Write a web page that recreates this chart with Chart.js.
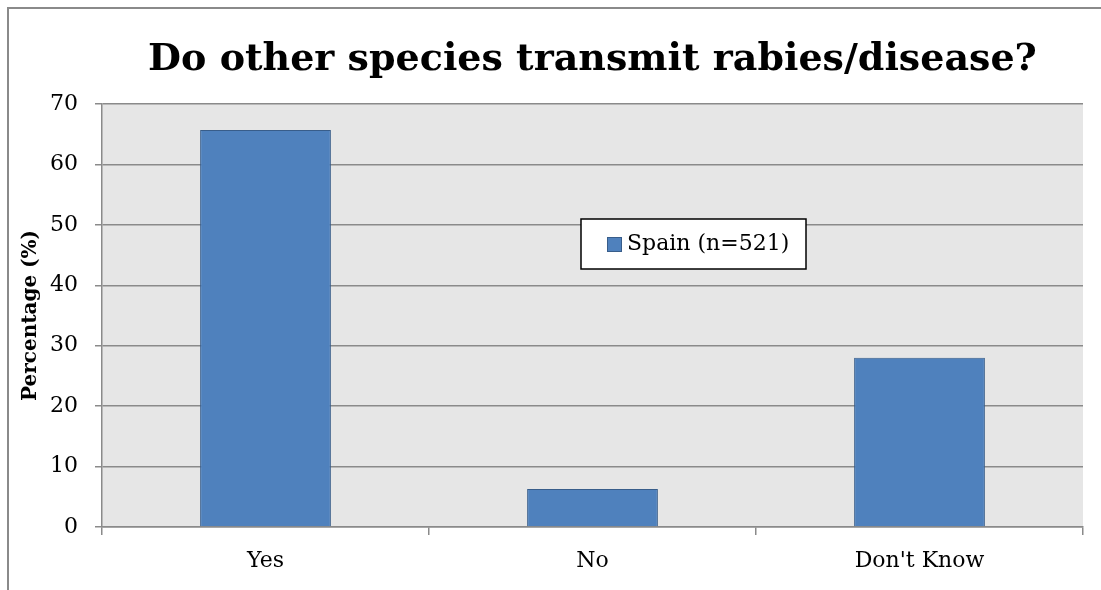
<!DOCTYPE html>
<html>
<head>
<meta charset="utf-8">
<script src="https://cdn.jsdelivr.net/npm/chart.js@4"></script>
<style>
  html, body { margin: 0; padding: 0; background: #ffffff; }
  #wrap { width: 1101px; height: 590px; position: relative; }
</style>
</head>
<body>
<div id="wrap"><canvas id="c" width="1101" height="590"></canvas></div>
<script>
const categories = ["Yes", "No", "Don't Know"];
const seriesLabel = "Spain (n=521)";
const seriesValues = [65.7, 6.3, 28.0];
const yTicks = [0, 10, 20, 30, 40, 50, 60, 70];
const titleText = "Do other species transmit rabies/disease?";
const yAxisTitle = "Percentage (%)";

const FONT = "'DejaVu Serif', 'Liberation Serif', serif";
const BAR_FILL = "#4f81bd";
const BAR_EDGE = "#385d8a";
const GRID = "#8a8a8a";

const plotBg = {
  id: 'plotBg',
  beforeDraw(chart) {
    const { ctx, chartArea: a } = chart;
    ctx.save();
    ctx.fillStyle = '#e6e6e6';
    ctx.fillRect(a.left, a.top, a.right - a.left, a.bottom - a.top);
    ctx.strokeStyle = '#8a8a8a';
    ctx.lineWidth = 2;
    ctx.strokeRect(8, 8, 1300, 800);
    ctx.restore();
  }
};

const centeredTitle = {
  id: 'centeredTitle',
  afterDraw(chart) {
    const { ctx, chartArea: a } = chart;
    ctx.save();
    ctx.fillStyle = '#000000';
    ctx.font = "bold 38px " + FONT;
    ctx.textAlign = 'center';
    ctx.textBaseline = 'alphabetic';
    ctx.fillText(titleText, (a.left + a.right) / 2, 70);
    ctx.restore();
  }
};

const boxLegend = {
  id: 'boxLegend',
  afterDraw(chart) {
    const { ctx } = chart;
    const ds = chart.data.datasets[0];
    const x = 581, y = 219, w = 225, h = 50;
    ctx.save();
    ctx.fillStyle = '#ffffff';
    ctx.fillRect(x, y, w, h);
    ctx.strokeStyle = '#000000';
    ctx.lineWidth = 1.5;
    ctx.strokeRect(x, y, w, h);
    ctx.fillStyle = ds.backgroundColor;
    ctx.fillRect(607, 237, 15, 15);
    ctx.strokeStyle = ds.borderColor;
    ctx.lineWidth = 1;
    ctx.strokeRect(607.5, 237.5, 14, 14);
    ctx.fillStyle = '#000000';
    ctx.font = "22px " + FONT;
    ctx.textBaseline = 'middle';
    ctx.textAlign = 'left';
    ctx.fillText(ds.label, 627, 244);
    ctx.restore();
  }
};

new Chart(document.getElementById('c'), {
  type: 'bar',
  data: {
    labels: categories,
    datasets: [{
      label: seriesLabel,
      data: seriesValues,
      backgroundColor: BAR_FILL,
      borderColor: BAR_EDGE,
      borderWidth: 1,
      categoryPercentage: 1.0,
      barPercentage: 0.4
    }]
  },
  options: {
    responsive: false,
    animation: false,
    devicePixelRatio: 1,
    layout: { padding: { left: 0, right: 18, top: 104, bottom: 0 } },
    plugins: {
      legend: { display: false },
      tooltip: { enabled: false },
      title: { display: false }
    },
    scales: {
      x: {
        offset: true,
        grid: {
          offset: true,
          drawOnChartArea: false,
          drawTicks: true,
          tickLength: 8,
          color: GRID,
          lineWidth: 1.5
        },
        border: { display: true, color: GRID, width: 1.5 },
        ticks: {
          color: '#000000',
          font: { family: FONT, size: 22 },
          padding: 13
        },
        afterFit(scale) { scale.height = 63; }
      },
      y: {
        min: 0,
        max: 70,
        afterBuildTicks(scale) { scale.ticks = yTicks.map(v => ({ value: v })); },
        grid: {
          color: GRID,
          lineWidth: 1.5,
          drawTicks: true,
          tickLength: 7
        },
        border: { display: true, color: GRID, width: 1.5 },
        ticks: {
          color: '#000000',
          font: { family: FONT, size: 22 },
          padding: 17
        },
        title: {
          display: true,
          text: yAxisTitle,
          color: '#000000',
          font: { family: FONT, size: 20, weight: 'bold' },
          padding: { top: 19, bottom: 0 }
        },
        afterFit(scale) { scale.width = 102; }
      }
    }
  },
  plugins: [plotBg, centeredTitle, boxLegend]
});
</script>
</body>
</html>
